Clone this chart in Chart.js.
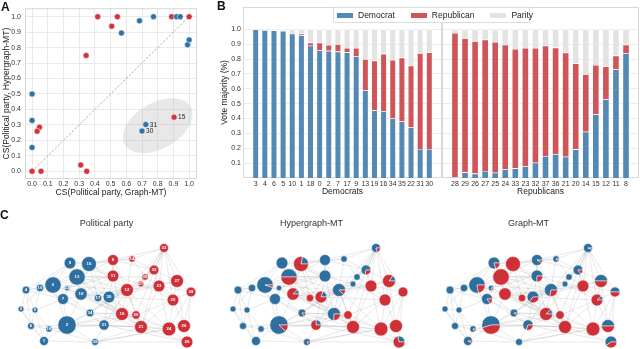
<!DOCTYPE html>
<html>
<head>
<meta charset="utf-8">
<title>Political party vs inferred communities</title>
<script src="https://cdn.jsdelivr.net/npm/chart.js@4.4.1/dist/chart.umd.min.js"></script>
<style>
  body { margin: 0; width: 640px; height: 349px; position: relative; overflow: hidden; background: #fff; font-family: "Liberation Sans", Arial, sans-serif; }
  canvas { position: absolute; }
  .panel-tag { position: absolute; z-index: 3; font-size: 12px; font-weight: bold; color: #111; line-height: 1; }
  #legendB { position: absolute; z-index: 2; left: 333px; top: 7px; width: 195px; height: 14px; border: 1px solid #dcdcdc; border-radius: 2px; background: rgba(255,255,255,0.92); display: flex; align-items: center; font-size: 8.5px; color: #222; }
  .legend-item { display: flex; align-items: center; margin-left: 3px; margin-right: 13px; }
  .legend-swatch { width: 16px; height: 5px; margin-right: 5px; }
</style>
</head>
<body>
<div class="panel-tag" style="left:1px;top:1px">A</div>
<div class="panel-tag" style="left:217px;top:0px">B</div>
<div class="panel-tag" style="left:0px;top:209px">C</div>

<canvas id="scatterA" width="205" height="200" style="left:0;top:0"></canvas>
<canvas id="barsDem" width="231" height="200" style="left:212px;top:0"></canvas>
<canvas id="barsRep" width="198" height="200" style="left:442px;top:0"></canvas>
<div id="legendB"></div>
<canvas id="netParty" width="213" height="149" style="left:0;top:200px"></canvas>
<canvas id="netHyper" width="213" height="149" style="left:212px;top:200px"></canvas>
<canvas id="netGraph" width="213" height="149" style="left:424px;top:200px"></canvas>

<script>
/** Panel A: cosine similarity per member */
const csTicks = [0, 0.1, 0.2, 0.3, 0.4, 0.5, 0.6, 0.7, 0.8, 0.9, 1.0];
const demGraphCS = [0.684, 0.773, 0.569, 0.92, 0.943, 1.0, 0.99, 0.0, 0.0, 0.0, 0.724, 0.70];
const demHyperCS = [0.973, 1.0, 0.894, 1.0, 1.0, 0.85, 0.818, 0.5, 0.329, 0.154, 0.302, 0.26];
const demTags = ["", "", "", "", "", "", "", "", "", "", "31", "30"];
const repGraphCS = [0.418, 0.543, 0.507, 0.888, 1.0, 0.344, 0.047, 0.032, 0.904, 0.31, 0.348, 0.0, 0.057];
const repHyperCS = [1.0, 1.0, 0.939, 1.0, 1.0, 0.749, 0.285, 0.259, 0.35, 0.04, 0.0, 0.0, 0.0];
const repTags = ["", "", "", "", "", "", "", "", "15", "", "", "", ""];
const clusterCenter = [0.80, 0.295];
const clusterAxes = [0.242, 0.146];

/** Panel B: vote majority per member */
const voteTicks = [0.1, 0.2, 0.3, 0.4, 0.5, 0.6, 0.7, 0.8, 0.9, 1.0];
const seriesNames = ["Democrat", "Republican", "Parity"];
const demLabels = ["3", "4", "6", "5", "10", "1", "18", "0", "2", "7", "17", "9", "13", "19", "16", "34", "35", "22", "31", "30"];
const demBlue = [1.0, 0.995, 0.993, 0.99, 0.97, 0.96, 0.89, 0.86, 0.855, 0.85, 0.845, 0.82, 0.59, 0.455, 0.45, 0.40, 0.38, 0.34, 0.195, 0.195];
const demRed = [0, 0, 0, 0, 0.005, 0.01, 0.02, 0.05, 0.04, 0.05, 0.03, 0.055, 0.21, 0.335, 0.385, 0.395, 0.43, 0.415, 0.645, 0.65];
const demParity = [0, 0.005, 0.007, 0.01, 0.025, 0.03, 0.09, 0.09, 0.105, 0.10, 0.125, 0.125, 0.20, 0.21, 0.165, 0.205, 0.19, 0.245, 0.16, 0.155];
const repLabels = ["28", "29", "26", "27", "25", "24", "33", "23", "32", "37", "36", "21", "20", "14", "15", "12", "11", "8"];
const repBlue = [0.005, 0.038, 0.03, 0.047, 0.036, 0.058, 0.065, 0.08, 0.103, 0.148, 0.161, 0.143, 0.193, 0.311, 0.427, 0.53, 0.73, 0.84];
const repRed = [0.97, 0.902, 0.89, 0.883, 0.879, 0.839, 0.803, 0.795, 0.772, 0.742, 0.716, 0.70, 0.577, 0.387, 0.333, 0.22, 0.093, 0.057];
const repParity = [0.025, 0.06, 0.08, 0.07, 0.085, 0.103, 0.132, 0.125, 0.125, 0.11, 0.123, 0.157, 0.23, 0.302, 0.24, 0.25, 0.177, 0.103];

/** Panel C: network nodes (layout coordinates, size, party, blue membership share) */
const nodeIds =   [9, 16, 13, 0, 10, 4, 22, 19, 7, 17, 30, 3, 5, 34, 6, 18, 2, 31, 1, 35,
                   33, 8, 14, 32, 11, 36, 37, 23, 27, 12, 28, 25, 15, 20, 21, 24, 26, 29];
const nodeX =     [70, 89, 77, 53, 40, 26, 67, 81, 63, 98, 109, 21, 35, 90, 31, 49, 67, 104, 44, 95,
                   164, 113, 132, 154, 113, 145, 141, 159, 177, 127, 191, 173, 122, 136, 141, 169, 184, 187];
const nodeY =     [63, 64, 77, 85, 88, 90, 88, 94, 99, 98, 97, 109, 110, 113, 126, 129, 125, 125, 141, 142,
                   48, 60, 59, 70, 76, 77, 84, 86, 81, 90, 92, 100, 114, 115, 127, 129, 126, 142];
const nodeSize =  [5.9, 7.5, 8.2, 8.2, 3.7, 3.9, 2.7, 6.2, 5.5, 3.7, 5.9, 3, 3, 3.9, 3.5, 3.2, 9.2, 5.2, 4.5, 3.5,
                   4.5, 5.5, 3.2, 4.9, 5.9, 3.2, 2.9, 5.9, 6.5, 6.5, 4.9, 5.9, 6.5, 4.2, 6.5, 6.9, 6.5, 5.9];
const nodeParty = ["D", "D", "D", "D", "D", "D", "D", "D", "D", "D", "D", "D", "D", "D", "D", "D", "D", "D", "D", "D",
                   "R", "R", "R", "R", "R", "R", "R", "R", "R", "R", "R", "R", "R", "R", "R", "R", "R", "R"];
const hyperBlue = [1, 0.22, 0.5, 0.95, 1, 1, 1, 0.12, 1, 0, 0.2, 1, 1, 0.85, 1, 1, 0.88, 0.25, 1, 0.85,
                   0.8, 1, 1, 0.72, 1, 1, 1, 0, 0.15, 0.88, 0, 0, 0.75, 0, 0, 0, 0, 0.28];
const graphBlue = [0.8, 0, 0, 0.78, 1, 1, 0.85, 0, 0.85, 0, 0.65, 1, 1, 0.9, 1, 0.85, 0.55, 0.7, 0.92, 1,
                   0.95, 0.92, 0.9, 0.85, 0.75, 1, 1, 0, 0.5, 0.72, 0.5, 0.12, 0.12, 0, 0, 0, 0.5, 0.6];
const edges = [
  [3, 4], [3, 5], [3, 6], [3, 1], [4, 10], [4, 0], [4, 7], [4, 5], [4, 9], [5, 6], [5, 1], [5, 7],
  [6, 1], [6, 18], [6, 2], [1, 2], [1, 18], [1, 35], [10, 0], [10, 9], [10, 7], [10, 22], [0, 9],
  [0, 13], [0, 7], [0, 19], [0, 2], [9, 16], [9, 13], [16, 13], [16, 19], [13, 19], [13, 22], [13, 7],
  [19, 17], [19, 30], [19, 2], [7, 2], [7, 22], [17, 30], [2, 34], [2, 31], [2, 18], [34, 31],
  [31, 35], [30, 31], [30, 34], [16, 30], [13, 30], [2, 35], [18, 31], [3, 10], [4, 6], [5, 18],
  [10, 5], [0, 16], [9, 19], [16, 17], [13, 17], [7, 34], [22, 19], [0, 34], [18, 35], [7, 31],
  [33, 32], [33, 27], [33, 28], [33, 23], [33, 14], [33, 12], [33, 15], [33, 25], [33, 36], [33, 8],
  [8, 14], [8, 11], [8, 12], [11, 12], [11, 15], [12, 37], [12, 36], [12, 23], [12, 15], [12, 20],
  [12, 21], [36, 32], [36, 37], [32, 23], [32, 27], [23, 27], [23, 25], [23, 24], [27, 28], [27, 25],
  [28, 25], [28, 26], [28, 29], [25, 24], [25, 26], [15, 20], [15, 21], [20, 21], [21, 24], [24, 26],
  [24, 29], [26, 29], [37, 23], [14, 32], [21, 29], [15, 24], [11, 37], [8, 32], [20, 24], [23, 21],
  [14, 36], [37, 25], [36, 23], [23, 28], [25, 21], [20, 25], [27, 26], [33, 20], [14, 12], [32, 25],
  [16, 8], [16, 11], [13, 11], [13, 12], [19, 12], [19, 15], [30, 12], [30, 15], [30, 11], [30, 21],
  [31, 15], [31, 21], [31, 20], [17, 11], [0, 12], [2, 15], [2, 21], [34, 15], [35, 29], [35, 21],
  [35, 24], [9, 8], [16, 14], [7, 12], [19, 21], [13, 15], [31, 24], [30, 23], [12, 34], [22, 11],
  [2, 12], [17, 12], [0, 11], [28, 24], [27, 12], [32, 12], [33, 21], [9, 11], [13, 8], [19, 11],
  [17, 15], [30, 20], [34, 21], [31, 12], [2, 20], [0, 15], [16, 12], [13, 36], [30, 37], [19, 20],
  [17, 21], [34, 20], [35, 26], [31, 29], [30, 25], [12, 24]
];

const PT_BLUE = "#2f72a6";
const PT_RED = "#d2343b";
const BAR_COLORS = ["#5489b4", "#cf5558", "#e3e3e3"];
const NODE_BLUE = "#2e6f9f";
const NODE_RED = "#cf3038";
const FONT = '"Liberation Sans", Arial, sans-serif';

Chart.defaults.font.family = FONT;
Chart.defaults.color = "#333";
Chart.defaults.animation = false;
Chart.defaults.events = [];
Chart.defaults.layout.autoPadding = false;
Chart.defaults.plugins.legend.display = false;
Chart.defaults.plugins.tooltip.enabled = false;

/** Light frame round the plot area */
const framePlugin = {
  id: "frame",
  beforeDatasetsDraw(chart) {
    const { ctx, chartArea: a } = chart;
    ctx.save();
    ctx.strokeStyle = "#d8d8d8";
    ctx.lineWidth = 1;
    ctx.strokeRect(a.left + 0.5, a.top + 0.5, a.width - 1, a.height - 1);
    ctx.restore();
  },
};

/** Grey ellipse behind the off-diagonal cluster */
const clusterEllipse = {
  id: "clusterEllipse",
  beforeDatasetsDraw(chart) {
    const { ctx, scales: { x, y } } = chart;
    const cx = x.getPixelForValue(clusterCenter[0]);
    const cy = y.getPixelForValue(clusterCenter[1]);
    const rx = x.getPixelForValue(clusterCenter[0] + clusterAxes[0]) - cx;
    const ry = x.getPixelForValue(clusterCenter[0] + clusterAxes[1]) - cx;
    ctx.save();
    ctx.fillStyle = "rgba(185,185,185,0.33)";
    ctx.beginPath();
    ctx.ellipse(cx, cy, rx, ry, -Math.PI / 6, 0, 2 * Math.PI);
    ctx.fill();
    ctx.restore();
  },
};

/** Text tags next to some scatter points */
const pointTags = {
  id: "pointTags",
  afterDatasetsDraw(chart) {
    const { ctx } = chart;
    ctx.save();
    ctx.font = "6.5px " + FONT;
    ctx.fillStyle = "#222";
    ctx.textBaseline = "middle";
    chart.data.datasets.forEach((ds, di) => {
      if (!ds.tags) return;
      chart.getDatasetMeta(di).data.forEach((pt, i) => {
        if (ds.tags[i]) ctx.fillText(ds.tags[i], pt.x + 4, pt.y + 0.5);
      });
    });
    ctx.restore();
  },
};

/** Scatter of cosine similarities */
function createScatter() {
  const toPoints = (xs, ys) => xs.map((v, i) => ({ x: v, y: ys[i] }));
  const tickFont = { size: 7 };
  const titleFont = { size: 8.5 };

  new Chart(document.getElementById("scatterA"), {
    type: "scatter",
    data: {
      datasets: [
        {
          label: "Democrat",
          data: toPoints(demGraphCS, demHyperCS),
          tags: demTags,
          backgroundColor: PT_BLUE,
          borderColor: "#fff",
          borderWidth: 0.5,
          pointRadius: 3,
        },
        {
          label: "Republican",
          data: toPoints(repGraphCS, repHyperCS),
          tags: repTags,
          backgroundColor: PT_RED,
          borderColor: "#fff",
          borderWidth: 0.5,
          pointRadius: 3,
        },
        {
          label: "diagonal",
          data: [{ x: 0, y: 0 }, { x: 1, y: 1 }],
          showLine: true,
          borderColor: "#9c9c9c",
          borderDash: [2.5, 1.5],
          borderWidth: 0.8,
          pointRadius: 0,
        },
      ],
    },
    options: {
      responsive: false,
      devicePixelRatio: 1,
      clip: false,
      layout: { padding: { top: 4, right: 8 } },
      scales: {
        x: {
          type: "linear",
          min: -0.045,
          max: 1.05,
          afterBuildTicks: (s) => { s.ticks = csTicks.map((v) => ({ value: v })); },
          afterFit: (s) => { s.height = 21; },
          ticks: { font: tickFont, color: "#333", padding: 1, maxRotation: 0, autoSkip: false, callback: (v) => v.toFixed(1) },
          grid: { color: "#e9e9e9", drawTicks: false },
          border: { display: false },
          title: { display: true, text: "CS(Political party, Graph-MT)", font: titleFont, color: "#222", padding: { top: 0, bottom: 2 } },
        },
        y: {
          type: "linear",
          min: -0.05,
          max: 1.055,
          afterBuildTicks: (s) => { s.ticks = csTicks.map((v) => ({ value: v })); },
          afterFit: (s) => { s.width = 25; },
          ticks: { font: tickFont, color: "#333", padding: 4, autoSkip: false, callback: (v) => v.toFixed(1) },
          grid: { color: "#e9e9e9", drawTicks: false },
          border: { display: false },
          title: { display: true, text: "CS(Political party, Hypergraph-MT)", font: titleFont, color: "#222", padding: { top: 2, bottom: 0 } },
        },
      },
    },
    plugins: [framePlugin, clusterEllipse, pointTags],
  });
}

/** Stacked vote bars for one party group */
function createVoteBars(canvasId, labels, blue, red, parity, groupTitle, showY) {
  const toPoints = (arr) => arr.map((v, i) => ({ x: i, y: v }));
  const margin = 0.05 * (labels.length - 1 + 0.8) + 0.4;
  const values = [blue, red, parity];

  new Chart(document.getElementById(canvasId), {
    type: "bar",
    data: {
      datasets: seriesNames.map((name, k) => ({
        label: name,
        data: toPoints(values[k]),
        backgroundColor: BAR_COLORS[k],
        borderColor: "#fff",
        borderWidth: 0.6,
        categoryPercentage: 1,
        barPercentage: 0.68,
      })),
    },
    options: {
      responsive: false,
      devicePixelRatio: 1,
      layout: { padding: { top: 7, right: 1 } },
      scales: {
        x: {
          type: "linear",
          stacked: true,
          offset: false,
          min: -margin,
          max: labels.length - 1 + margin,
          afterBuildTicks: (s) => { s.ticks = labels.map((_, i) => ({ value: i })); },
          afterFit: (s) => { s.height = 22; },
          ticks: { font: { size: 7 }, color: "#333", padding: 2, maxRotation: 0, autoSkip: false, callback: (v) => labels[v] },
          grid: { display: false, drawTicks: false },
          border: { display: false },
          title: { display: true, text: groupTitle, font: { size: 8.5 }, color: "#222", padding: { top: 0, bottom: 3 } },
        },
        y: {
          stacked: true,
          min: 0,
          max: 1.15,
          afterBuildTicks: (s) => { s.ticks = voteTicks.map((v) => ({ value: v })); },
          afterFit: (s) => { s.width = showY ? 31 : 0; },
          ticks: { display: showY, font: { size: 7 }, color: "#333", padding: 2, callback: (v) => v.toFixed(1) },
          grid: { color: "#ececec", drawTicks: false },
          border: { display: false },
          title: { display: showY, text: "Vote majority (%)", font: { size: 8.5 }, color: "#222", padding: { top: 8, bottom: 0 } },
        },
      },
    },
    plugins: [framePlugin],
  });
}

/** HTML legend shared by both bar groups */
function createVoteLegend() {
  const legend = document.getElementById("legendB");
  legend.innerHTML = "";
  seriesNames.forEach((name, k) => {
    const item = document.createElement("div");
    item.classList.add("legend-item");
    const swatch = document.createElement("span");
    swatch.classList.add("legend-swatch");
    swatch.style.background = BAR_COLORS[k];
    const text = document.createElement("span");
    text.textContent = name;
    item.appendChild(swatch);
    item.appendChild(text);
    legend.appendChild(item);
  });
}

/** Node ids written on the party network */
const nodeLabels = {
  id: "nodeLabels",
  afterDatasetsDraw(chart) {
    const { ctx } = chart;
    ctx.save();
    ctx.font = "bold 4.3px " + FONT;
    ctx.fillStyle = "#fff";
    ctx.textAlign = "center";
    ctx.textBaseline = "middle";
    chart.getDatasetMeta(0).data.forEach((el, i) => {
      ctx.fillText(String(nodeIds[i]), el.x, el.y + 0.3);
    });
    ctx.restore();
  },
};

/** Pie glyph per node from its blue membership share */
function makePiePlugin(share) {
  return {
    id: "pieNodes",
    afterDatasetsDraw(chart) {
      const { ctx } = chart;
      ctx.save();
      ctx.strokeStyle = "#fff";
      ctx.lineWidth = 0.5;
      chart.getDatasetMeta(0).data.forEach((el, i) => {
        const f = share[i];
        const r = el.options.radius;
        if (f <= 0 || f >= 1) {
          ctx.beginPath();
          ctx.arc(el.x, el.y, r, 0, 2 * Math.PI);
          ctx.fillStyle = f >= 1 ? NODE_BLUE : NODE_RED;
          ctx.fill();
          ctx.stroke();
          return;
        }
        const turn = -2 * Math.PI * f;
        [[0, turn, NODE_BLUE], [turn, -2 * Math.PI, NODE_RED]].forEach(([a0, a1, color]) => {
          ctx.beginPath();
          ctx.moveTo(el.x, el.y);
          ctx.arc(el.x, el.y, r, a0, a1, true);
          ctx.closePath();
          ctx.fillStyle = color;
          ctx.fill();
          ctx.stroke();
        });
      });
      ctx.restore();
    },
  };
}

/** Network panel: edges + nodes */
function createNetwork(canvasId, panelTitle, rightPad, share) {
  const edgePoints = [];
  edges.forEach(([a, b]) => {
    const i = nodeIds.indexOf(a);
    const j = nodeIds.indexOf(b);
    edgePoints.push({ x: nodeX[i], y: nodeY[i] }, { x: nodeX[j], y: nodeY[j] }, { x: null, y: null });
  });
  const partyColors = nodeParty.map((p) => (p === "D" ? NODE_BLUE : NODE_RED));
  const width = 213 - rightPad;

  new Chart(document.getElementById(canvasId), {
    type: "bubble",
    data: {
      datasets: [
        {
          label: "members",
          data: nodeIds.map((_, i) => ({ x: nodeX[i], y: nodeY[i], r: nodeSize[i] })),
          backgroundColor: share ? "rgba(0,0,0,0)" : partyColors,
          borderColor: share ? "rgba(0,0,0,0)" : "#fff",
          borderWidth: share ? 0 : 0.6,
        },
        {
          type: "line",
          label: "co-sponsorship",
          data: edgePoints,
          borderColor: "rgba(140,140,140,0.38)",
          borderWidth: 0.5,
          pointRadius: 0,
          spanGaps: false,
        },
      ],
    },
    options: {
      responsive: false,
      devicePixelRatio: 1,
      clip: false,
      layout: { padding: { right: rightPad } },
      plugins: {
        title: { display: true, text: panelTitle, font: { size: 9, weight: "normal" }, color: "#333", padding: { top: 18, bottom: 4 } },
      },
      scales: {
        x: { type: "linear", display: false, min: 0, max: width },
        y: { type: "linear", display: false, reverse: true, min: 32.8, max: 149 },
      },
    },
    plugins: share ? [makePiePlugin(share)] : [nodeLabels],
  });
}

document.addEventListener("DOMContentLoaded", () => {
  createScatter();
  createVoteBars("barsDem", demLabels, demBlue, demRed, demParity, "Democrats", true);
  createVoteBars("barsRep", repLabels, repBlue, repRed, repParity, "Republicans", false);
  createVoteLegend();
  createNetwork("netParty", "Political party", 0, null);
  createNetwork("netHyper", "Hypergraph-MT", 14, hyperBlue);
  createNetwork("netGraph", "Graph-MT", 4, graphBlue);
});
</script>
</body>
</html>
